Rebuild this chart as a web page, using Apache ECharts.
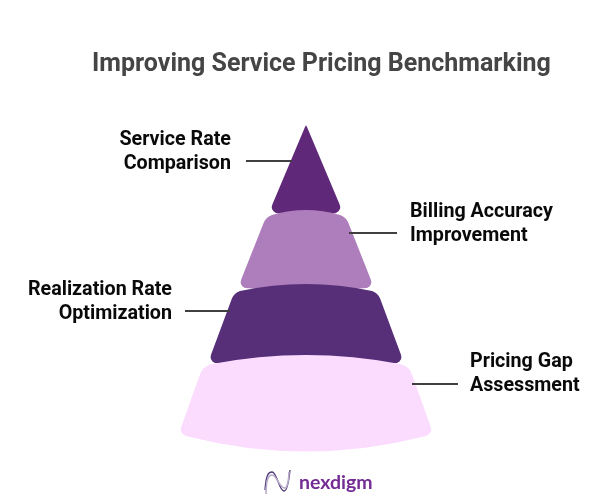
<!DOCTYPE html>
<html>
<head>
<meta charset="UTF-8">
<script src="https://cdn.jsdelivr.net/npm/echarts@6/dist/echarts.min.js"></script>
<style>
  html, body { margin: 0; padding: 0; background: #fff; }
  #main { width: 610px; height: 503px; }
</style>
</head>
<body>
<div id="main"></div>
<script>
// layers from the tip down in axis units
var layerNames = ['Service Rate Comparison', 'Billing Accuracy Improvement', 'Realization Rate Optimization', 'Pricing Gap Assessment'];
var bandTop = [378, 286, 210, 137];
var bandBottom = [293, 218, 143, 70];
var halfWidthTop = [0, 40, 72, 103];
var halfWidthBottom = [36, 67, 97, 127];
var crownRise = [0, 6, 8, 10];
var baseSag = [5, 4, 4, 17];
var labelLines = [['Service Rate', 'Comparison'], ['Billing Accuracy', 'Improvement'], ['Realization Rate', 'Optimization'], ['Pricing Gap', 'Assessment']];
var layerColors = ['#5f2879', '#ae7dbb', '#562f78', '#fbdcff'];

// where the call-outs sit
var leaders = [
    { y: 342, from: -60, to: -14, textX: -75, textDy: -9, align: 'right' },
    { y: 270, from: 43, to: 91, textX: 104, textDy: -9, align: 'left' },
    { y: 192, from: -121, to: -76, textX: -134, textDy: -9, align: 'right' },
    { y: 119, from: 106, to: 152, textX: 164, textDy: -10, align: 'left' }
];

function layerPath(api) {
    var i = api.value(0);
    var tl = api.coord([-api.value(3), api.value(1)]);
    var tr = api.coord([api.value(3), api.value(1)]);
    var br = api.coord([api.value(4), api.value(2)]);
    var bl = api.coord([-api.value(4), api.value(2)]);
    var cx = api.coord([0, 0])[0];
    var rise = api.size([0, crownRise[i]])[1] * 2;
    var sag = api.size([0, baseSag[i]])[1] * 2;
    var r = i === 3 ? 9 : 6;
    var rb = i === 3 ? 7 : 6;

    function along(a, b, d) {
        var dx = b[0] - a[0], dy = b[1] - a[1];
        var len = Math.sqrt(dx * dx + dy * dy) || 1;
        return (a[0] + dx / len * d) + ' ' + (a[1] + dy / len * d);
    }
    var p = '';
    if (i === 0) {
        // pointed tip
        p += 'M ' + (tl[0] - 1) + ' ' + (tl[1] + 2) + ' Q ' + tl[0] + ' ' + (tl[1] - 1) + ' ' + (tr[0] + 1) + ' ' + (tr[1] + 2);
    } else {
        p += 'M ' + along(tl, bl, r) + ' Q ' + tl[0] + ' ' + tl[1] + ' ' + (tl[0] + r) + ' ' + (tl[1] - 2);
        p += ' Q ' + cx + ' ' + (tl[1] - rise) + ' ' + (tr[0] - r) + ' ' + (tr[1] - 2);
        p += ' Q ' + tr[0] + ' ' + tr[1] + ' ' + along(tr, br, r);
    }
    p += ' L ' + along(br, tr, rb) + ' Q ' + br[0] + ' ' + br[1] + ' ' + (br[0] - rb) + ' ' + (br[1] + 3);
    p += ' Q ' + cx + ' ' + (br[1] + sag) + ' ' + (bl[0] + rb) + ' ' + (bl[1] + 3);
    p += ' Q ' + bl[0] + ' ' + bl[1] + ' ' + along(bl, tl, rb) + ' Z';
    return p;
}

var layerData = layerNames.map(function (name, i) {
    return { name: name, value: [i, bandTop[i], bandBottom[i], halfWidthTop[i], halfWidthBottom[i]] };
});

function swoosh(pts, color, width) {
    return {
        type: 'bezierCurve',
        silent: true,
        shape: { x1: pts[0], y1: pts[1], cpx1: pts[2], cpy1: pts[3], cpx2: pts[4], cpy2: pts[5], x2: pts[6], y2: pts[7] },
        style: { fill: 'none', stroke: color, lineWidth: width }
    };
}

var myChart = echarts.init(document.getElementById('main'), null, { renderer: 'canvas' });
var option = {
    backgroundColor: '#ffffff',
    animation: false,
    title: {
        text: 'Improving Service Pricing Benchmarking',
        left: 87,
        top: 47,
        textStyle: { fontFamily: 'Roboto', fontSize: 25, fontWeight: 700, color: '#454545' }
    },
    grid: { left: 0, right: 0, top: 0, bottom: 0 },
    xAxis: { type: 'value', min: -306, max: 304, show: false },
    yAxis: { type: 'value', min: 0, max: 503, show: false },
    series: [
        {
            type: 'custom',
            coordinateSystem: 'cartesian2d',
            clip: false,
            silent: true,
            data: layerData,
            encode: { x: 3, y: 1 },
            renderItem: function (params, api) {
                return {
                    type: 'path',
                    shape: { pathData: layerPath(api) },
                    style: { fill: layerColors[params.dataIndex] }
                };
            }
        },
        {
            type: 'custom',
            coordinateSystem: 'cartesian2d',
            clip: false,
            silent: true,
            z: 3,
            data: leaders.map(function (l, i) { return [i, l.y, l.from, l.to]; }),
            encode: { x: 2, y: 1 },
            renderItem: function (params, api) {
                var l = leaders[params.dataIndex];
                var a = api.coord([l.from, l.y]);
                var b = api.coord([l.to, l.y]);
                var t = api.coord([l.textX, l.y]);
                return {
                    type: 'group',
                    children: [
                        {
                            type: 'line',
                            shape: { x1: a[0], y1: a[1], x2: b[0], y2: b[1] },
                            style: { stroke: '#404040', lineWidth: 1.8 }
                        },
                        {
                            type: 'text',
                            x: t[0],
                            y: t[1] + l.textDy,
                            style: {
                                text: labelLines[params.dataIndex].join('\n'),
                                align: l.align,
                                verticalAlign: 'middle',
                                font: '700 19.7px Roboto',
                                lineHeight: 24,
                                fill: '#0a0a0a'
                            }
                        }
                    ]
                };
            }
        }
    ],
    graphic: [
        swoosh([265, 490, 266, 476, 268, 472, 272, 472], '#4b3a78', 1.3),
        swoosh([272, 472, 277, 472, 279, 491, 284, 491], '#4b3a78', 1.3),
        swoosh([284, 491, 287, 491, 289, 480, 290, 470], '#4b3a78', 1.3),
        swoosh([266, 494, 266, 482, 268, 475, 272, 475], '#b9a9c9', 1.6),
        swoosh([272, 475, 277, 475, 279, 488, 285, 488], '#b9a9c9', 1.6),
        swoosh([285, 488, 287, 488, 289, 480, 289, 472], '#b9a9c9', 1.6),
        { type: 'text', x: 299, y: 483, silent: true, style: { text: 'nexdigm', font: '700 19.5px Lato', fill: '#742c94', verticalAlign: 'middle' } }
    ]
};
myChart.setOption(option);
</script>
</body>
</html>
